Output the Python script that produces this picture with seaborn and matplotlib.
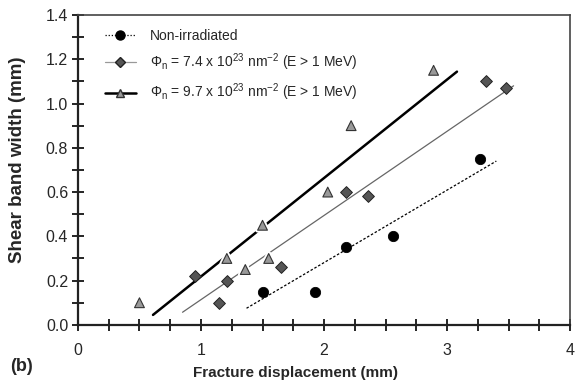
import matplotlib
matplotlib.use("Agg")
import matplotlib.pyplot as plt
import seaborn as sns
import numpy as np
from matplotlib.ticker import MultipleLocator
from matplotlib.lines import Line2D
import matplotlib.patheffects as pe

# Data
x_non = [1.50, 1.93, 2.18, 2.56, 3.27]
y_non = [0.15, 0.15, 0.35, 0.40, 0.75]
x_74 = [0.95, 1.15, 1.21, 1.65, 2.18, 2.36, 3.32, 3.48]
y_74 = [0.22, 0.10, 0.20, 0.26, 0.60, 0.58, 1.10, 1.07]
x_97 = [0.50, 1.21, 1.36, 1.50, 1.55, 2.03, 2.22, 2.89]
y_97 = [0.10, 0.30, 0.25, 0.45, 0.30, 0.60, 0.90, 1.15]
# fitted lines (endpoints)
fit_non_x = [1.37, 3.40]
fit_non_y = [0.075, 0.74]
fit_74_x = [0.85, 3.54]
fit_74_y = [0.057, 1.08]
fit_97_x = [0.61, 3.08]
fit_97_y = [0.045, 1.144]

labels = ["Non-irradiated",
          r"$\Phi_\mathregular{n}$ = 7.4 x 10$^\mathregular{23}$ nm$^\mathregular{-2}$ (E > 1 MeV)",
          r"$\Phi_\mathregular{n}$ = 9.7 x 10$^\mathregular{23}$ nm$^\mathregular{-2}$ (E > 1 MeV)"]

sns.set_style("ticks")
plt.rcParams['font.family'] = ['Liberation Sans', 'DejaVu Sans']
plt.rcParams['mathtext.fontset'] = 'custom'
plt.rcParams['mathtext.rm'] = 'Liberation Sans'
plt.rcParams['mathtext.it'] = 'Liberation Sans'

fig = plt.figure(figsize=(5.86, 3.84), dpi=100)
ax = fig.add_axes([0.133, 0.154, 0.840, 0.807])

# lines
sns.lineplot(x=fit_non_x, y=fit_non_y, ax=ax, color="black", lw=0.9, linestyle=(0, (2, 1.5)), zorder=2)
sns.lineplot(x=fit_74_x, y=fit_74_y, ax=ax, color="#666666", lw=0.9, zorder=2)
sns.lineplot(x=fit_97_x, y=fit_97_y, ax=ax, color="black", lw=1.8, zorder=2)

# markers
sns.scatterplot(x=x_non, y=y_non, ax=ax, marker="o", s=55, color="black", edgecolor="black", zorder=4)
sns.scatterplot(x=x_74, y=y_74, ax=ax, marker="D", s=36, color="#555555", edgecolor="#222222", linewidth=0.7, zorder=4)
sns.scatterplot(x=x_97, y=y_97, ax=ax, marker="^", s=50, color="#999999", edgecolor="#333333", linewidth=0.8, zorder=5)
ax.collections[-1].set_path_effects([pe.withStroke(linewidth=3.5, foreground="white")])

# legend handles
h = [Line2D([], [], color="black", lw=0.9, linestyle=(0, (1, 1.5)), marker="o", ms=6.5, mfc="black", mec="black"),
     Line2D([], [], color="#999999", lw=0.9, marker="D", ms=5, mfc="#555555", mec="#222222"),
     Line2D([], [], color="black", lw=1.8, marker="^", ms=6, mfc="#999999", mec="#333333")]
ax.legend(h, labels, loc="upper left", frameon=False, fontsize=10,
          bbox_to_anchor=(0.03, 0.995), handlelength=2.2, labelspacing=0.62, handletextpad=1.0)

ax.set_xlim(0, 4)
ax.set_ylim(0, 1.4)
ax.xaxis.set_major_locator(MultipleLocator(1))
ax.xaxis.set_minor_locator(MultipleLocator(0.25))
ax.set_yticks(np.arange(0, 1.41, 0.2))
ax.set_yticklabels([f"{v:.1f}" for v in np.arange(0, 1.41, 0.2)])
ax.yaxis.set_minor_locator(MultipleLocator(0.1))
ax.tick_params(axis="both", which="both", direction="inout", length=8, width=1.2, labelsize=11.5, color="black")
ax.tick_params(axis="x", which="major", pad=9)
ax.tick_params(axis="y", which="major", pad=3)
ax.tick_params(top=False, right=False)
for s in ["left", "bottom"]:
    ax.spines[s].set_linewidth(1.6)
    ax.spines[s].set_color("#222222")
for s in ["top", "right"]:
    ax.spines[s].set_visible(True)
    ax.spines[s].set_linewidth(1.2)
    ax.spines[s].set_color("#444444")

ax.set_xlabel("Fracture displacement (mm)", fontsize=11, fontweight="bold", va="center")
ax.xaxis.set_label_coords(0.441, -0.155)
ax.set_ylabel("Shear band width (mm)", fontsize=13.5, fontweight="bold", va="center")
ax.yaxis.set_label_coords(-0.122, 0.532)
fig.text(0.017, 0.035, "(b)", fontsize=13, fontweight="bold")

fig.savefig("out.png", dpi=100)
